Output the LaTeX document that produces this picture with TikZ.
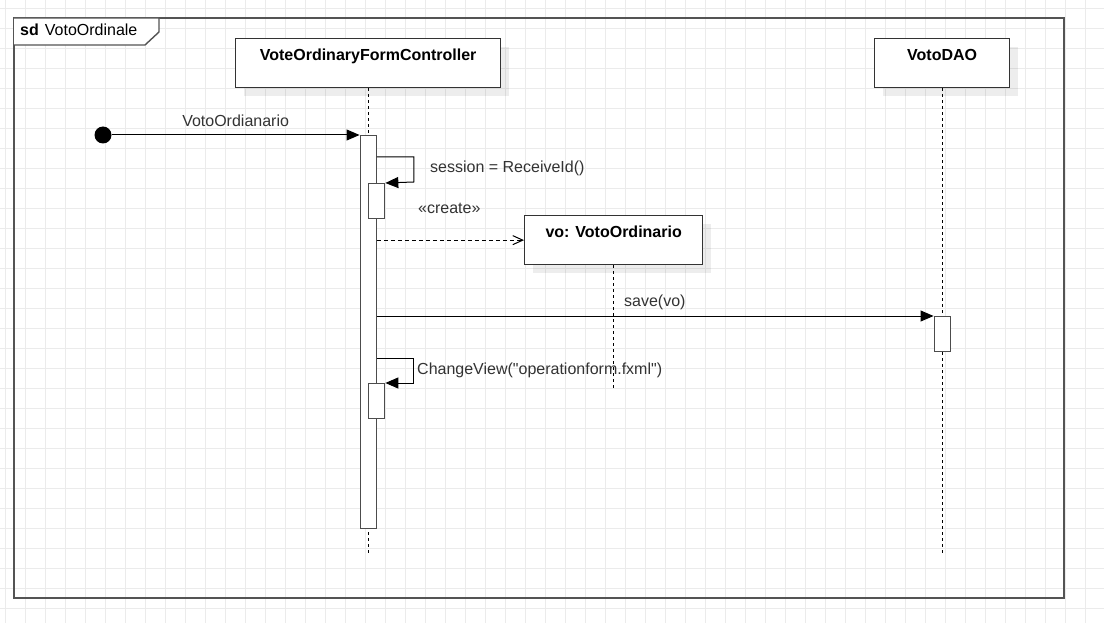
\documentclass[tikz,border=0pt]{standalone}
\usepackage{fontspec}
\setmainfont{Liberation Sans}
\usetikzlibrary{arrows.meta, positioning, shadows}

\begin{document}
\begin{tikzpicture}[
    x=1pt, y=-1pt,
    every node/.style={font=\fontsize{16}{19}\selectfont, text=black!80},
    grid line/.style={draw=black!8, line width=0.8pt},
    frame/.style={draw=black!67, line width=1.4pt},
    lifebox/.style={draw=black!80, line width=1.3pt, fill=white, inner sep=0pt,
        text height=22pt, text depth=27pt, anchor=north west,
        font=\fontsize{16}{19}\selectfont\bfseries, text=black,
        drop shadow={shadow xshift=8pt, shadow yshift=-8pt, fill=black, opacity=0.07}},
    lifeline/.style={draw=black, line width=1pt, dash pattern=on 3pt off 3pt},
    actbar/.style={draw=black!70, line width=1.2pt, fill=white, minimum width=16pt, inner sep=0pt},
    msg/.style={draw=black, line width=1pt, -{Triangle[length=13pt,width=11pt]}},
    create/.style={draw=black, line width=1pt, dash pattern=on 4pt off 3pt,
        -{Straight Barb[length=10pt,width=9pt]}},
    lbl/.style={inner sep=0pt, anchor=base west}
]
% background and grid
\fill[white] (0,0) rectangle (1104,623);
\useasboundingbox (0,0) rectangle (1104,623);
\foreach \gx in {5,25,...,1105}
    \draw[grid line] (\gx,0) -- (\gx,623);
\foreach \gy in {8,28,...,608}
    \draw[grid line] (0,\gy) -- (1104,\gy);

% frame
\draw[frame] (14,18) rectangle (1064,598);
\draw[frame, fill=white] (14,18) -- (159,18) -- (159,32) -- (145,45) -- (14,45);
\node[lbl, text=black] (sdlbl) at (20,36) {\textbf{sd}\hspace{6pt}VotoOrdinale};

% lifelines
\node[lifebox, minimum width=265pt] (ctrl) at (235,38) {VoteOrdinaryFormController};
\node[lifebox, minimum width=135pt] (dao) at (874,38) {VotoDAO};
\coordinate (ctrlend) at (ctrl.south |- 0,556);
\coordinate (daoend) at (dao.south |- 0,556);
\draw[lifeline] (ctrl.south) -- (ctrlend);
\draw[lifeline] (dao.south) -- (daoend);

% activations
\node[actbar, minimum height=393pt, anchor=north] (act) at (ctrl.south |- 0,135) {};
\node[actbar, minimum height=35pt, anchor=north west] (sub1) at (act.north |- 0,183) {};
\node[actbar, minimum height=35pt, anchor=north west] (sub2) at (act.north |- 0,383) {};
\node[actbar, minimum height=35pt, anchor=north] (daoact) at (dao.south |- 0,316) {};

% found message
\node[circle, fill=black, minimum size=17pt, inner sep=0pt] (start) at (103,135) {};
\draw[msg] (start) -- (act.north west)
    node[midway, anchor=base, inner sep=0pt, yshift=8pt] (startlbl) {VotoOrdianario};

% self call
\draw[msg] ([yshift=-22pt]act.north east) -- ++(37,0) -- ++(0,25) -- (sub1.north east);
\node[lbl] (sessionlbl) at (430,173) {session = ReceiveId()};

% create
\node[lifebox, minimum width=178pt] (vo) at (524,215) {vo: VotoOrdinario};
\coordinate (voend) at (vo.south |- 0,388);
\draw[lifeline] (vo.south) -- (voend);
\draw[create] (act.east |- vo.west) -- (vo.west);
\node[lbl] (createlbl) at (418,214) {«create»};

% save
\draw[msg] (act.east |- daoact.north) -- (daoact.north west);
\node[lbl] (savelbl) at (624,306) {save(vo)};

% change view
\draw[msg] ([yshift=-223pt]act.north east) -- ++(37,0) -- ++(0,25) -- (sub2.north east);
\node[lbl] (viewlbl) at (417,374) {ChangeView(\textquotedbl operationform.fxml\textquotedbl)};
\end{tikzpicture}
\end{document}
